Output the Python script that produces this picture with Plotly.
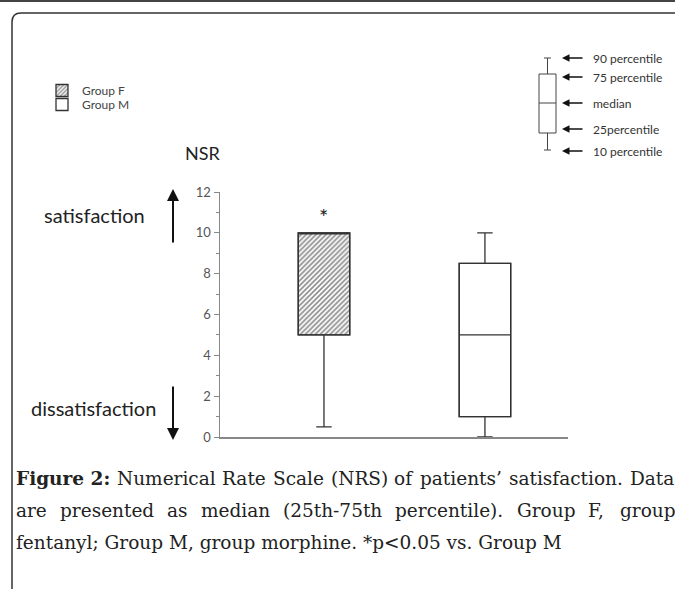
import plotly.graph_objects as go

# ---------------- data ----------------
groups = ["Group F", "Group M"]
group_x = [0, 1]
p10 = [0.5, 0.0]
p25 = [5.0, 1.0]
median = [10.0, 5.0]
p75 = [10.0, 8.5]
p90 = [10.0, 10.0]
y_ticks = [0, 2, 4, 6, 8, 10, 12]
star_marks = ["*", ""]

key_labels = ["90 percentile", "75 percentile", "median", "25percentile", "10 percentile"]

caption_line1_words = ["<b>Figure 2:</b>", "Numerical", "Rate", "Scale", "(NRS)", "of",
                       "patients’", "satisfaction.", "Data"]
caption_line2_words = ["are", "presented", "as", "median", "(25th-75th", "percentile).",
                       "Group", "F,", "group"]
caption_line3 = "fentanyl; Group M, group morphine. *p&lt;0.05 vs. Group M"

# ---------------- layout helpers ----------------
W, H = 675, 589          # reference canvas (all pixel positions below are in this frame)
HF = 605                 # figure height (compensates the vertical squeeze of the page capture)
SANS = "Lato, Open Sans, sans-serif"
SERIF = "DejaVu Serif, Liberation Serif, serif"

fig = go.Figure()

patterns = ["/", ""]
legend_ids = ["legend", "legend2"]
for i in range(2):
    fig.add_trace(go.Bar(
        x=[group_x[i]], y=[p75[i] - p25[i]], base=[p25[i]], width=0.32,
        name=groups[i], legend=legend_ids[i],
        marker=dict(color="white", line=dict(color="#333", width=1.3),
                    pattern=dict(shape=patterns[i], fgcolor="#222", bgcolor="white",
                                 size=3.5, solidity=0.5)),
        showlegend=True, hoverinfo="skip", xaxis="x", yaxis="y"))

for i in range(2):
    fig.add_trace(go.Box(
        x=[group_x[i]], q1=[p25[i]], median=[median[i]], q3=[p75[i]],
        lowerfence=[p10[i]], upperfence=[p90[i]], width=0.32, whiskerwidth=0.3,
        fillcolor="rgba(0,0,0,0)", line=dict(color="#333", width=1.3),
        showlegend=False, boxpoints=False, hoverinfo="skip", xaxis="x", yaxis="y"))

fig.add_trace(go.Scatter(x=[], y=[], xaxis="x3", yaxis="y3", showlegend=False))

for i in range(2):
    if star_marks[i]:
        fig.add_annotation(x=group_x[i], y=p75[i], yshift=16, text=star_marks[i],
                           showarrow=False, font=dict(family=SANS, size=22, color="#222"),
                           xref="x", yref="y")

x_left_px, x_right_px = 220, 568
y_bottom_px, y_top_px = 437, 192

leg_font = dict(family=SANS, size=12, color="#444")
fig.update_layout(
    width=W, height=HF, margin=dict(l=0, r=0, t=0, b=0),
    paper_bgcolor="white", plot_bgcolor="rgba(0,0,0,0)",
    barmode="overlay", boxmode="overlay",
    xaxis=dict(domain=[x_left_px / W, x_right_px / W], range=[-0.646, 1.516],
               showgrid=False, zeroline=False, showticklabels=False, ticks="",
               showline=True, linecolor="#888", linewidth=1.5, anchor="y", fixedrange=True),
    yaxis=dict(domain=[1 - y_bottom_px / H, 1 - y_top_px / H], range=[0, 12],
               tickvals=y_ticks, ticks="outside", ticklen=5, tickcolor="#888", tickwidth=1,
               minor=dict(dtick=1, ticks="outside", ticklen=3, tickcolor="#888", tickwidth=1),
               showgrid=False, zeroline=False, showline=True, linecolor="#888", linewidth=1.5,
               tickfont=dict(family=SANS, size=13, color="#555"), anchor="x", fixedrange=True),
    xaxis3=dict(domain=[0, 1], range=[0, W], visible=False, anchor="y3", fixedrange=True),
    yaxis3=dict(domain=[0, 1], range=[H, 0], visible=False, anchor="x3", fixedrange=True),
    legend=dict(x=42 / W, y=1 - 76 / H, xanchor="left", yanchor="top",
                font=leg_font, bgcolor="rgba(0,0,0,0)", itemwidth=30),
    legend2=dict(x=42 / W, y=1 - 90 / H, xanchor="left", yanchor="top",
                 font=leg_font, bgcolor="rgba(0,0,0,0)", itemwidth=30),
    showlegend=True,
)

# frame
fig.add_shape(type="line", xref="x3", yref="y3", x0=0, x1=W, y0=1, y1=1,
              line=dict(color="#444", width=2))
fig.add_shape(type="path", xref="x3", yref="y3",
              path=f"M 12,{H+5} L 12,22 Q 12,13 21,13 L {W+5},13",
              line=dict(color="#333", width=1.5))

# left texts and arrows
fig.add_annotation(xref="x3", yref="y3", x=203, y=153, text="NSR", showarrow=False,
                   font=dict(family=SANS, size=18, color="#222"))
fig.add_annotation(xref="x3", yref="y3", x=94, y=215, text="satisfaction", showarrow=False,
                   font=dict(family=SANS, size=20, color="#222"))
fig.add_annotation(xref="x3", yref="y3", x=93, y=408, text="dissatisfaction", showarrow=False,
                   font=dict(family=SANS, size=20, color="#222"))
fig.add_annotation(xref="x3", yref="y3", axref="x3", ayref="y3", x=173, y=189, ax=173, ay=244,
                   text="", showarrow=True, arrowhead=2, arrowsize=1.2, arrowwidth=2, arrowcolor="#111")
fig.add_annotation(xref="x3", yref="y3", axref="x3", ayref="y3", x=173, y=440, ax=173, ay=385,
                   text="", showarrow=True, arrowhead=2, arrowsize=1.2, arrowwidth=2, arrowcolor="#111")

# key box (top right)
kx0, kx1, kc = 539, 556, 547.5
ky = [58, 77, 103, 129, 151]
fig.add_shape(type="rect", xref="x3", yref="y3", x0=kx0, x1=kx1, y0=74, y1=133,
              line=dict(color="#444", width=1))
fig.add_shape(type="line", xref="x3", yref="y3", x0=kx0, x1=kx1, y0=103, y1=103,
              line=dict(color="#444", width=1))
fig.add_shape(type="line", xref="x3", yref="y3", x0=kc, x1=kc, y0=58, y1=74,
              line=dict(color="#444", width=1))
fig.add_shape(type="line", xref="x3", yref="y3", x0=kc, x1=kc, y0=133, y1=150,
              line=dict(color="#444", width=1))
fig.add_shape(type="line", xref="x3", yref="y3", x0=544, x1=551, y0=58, y1=58,
              line=dict(color="#444", width=1))
fig.add_shape(type="line", xref="x3", yref="y3", x0=544, x1=551, y0=150, y1=150,
              line=dict(color="#444", width=1))
for lab, yy in zip(key_labels, ky):
    fig.add_annotation(xref="x3", yref="y3", axref="x3", ayref="y3", x=562, y=yy, ax=584, ay=yy,
                       text="", showarrow=True, arrowhead=2, arrowsize=1, arrowwidth=1.5,
                       arrowcolor="#111")
    fig.add_annotation(xref="x3", yref="y3", x=591, y=yy, text=lab, showarrow=False,
                       xanchor="left", font=dict(family=SANS, size=12, color="#333"))

# caption (justified lines placed word by word)
cap_font = dict(family=SERIF, size=18.5, color="#222")
line1_x = [14, 115, 220, 271, 329, 392, 418, 507, 628]
for wtxt, xx in zip(caption_line1_words, line1_x):
    fig.add_annotation(xref="x3", yref="y3", x=xx, y=478, text=wtxt, showarrow=False,
                       xanchor="left", font=cap_font)
line2_x = [14, 58, 165, 199, 281, 393, 515, 586, 618]
for wtxt, xx in zip(caption_line2_words, line2_x):
    fig.add_annotation(xref="x3", yref="y3", x=xx, y=510, text=wtxt, showarrow=False,
                       xanchor="left", font=cap_font)
fig.add_annotation(xref="x3", yref="y3", x=14, y=542, text=caption_line3, showarrow=False,
                   xanchor="left", font=cap_font)

fig.write_html(
    "out.html",
    config={"displayModeBar": False, "staticPlot": True},
    post_script=(
        "document.documentElement.style.margin='0';"
        "document.body.style.margin='0';document.body.style.overflow='hidden';"
        "var d=document.getElementById('{plot_id}');"
        "d.style.position='fixed';d.style.top='-8px';d.style.left='0px';"
    ),
)
